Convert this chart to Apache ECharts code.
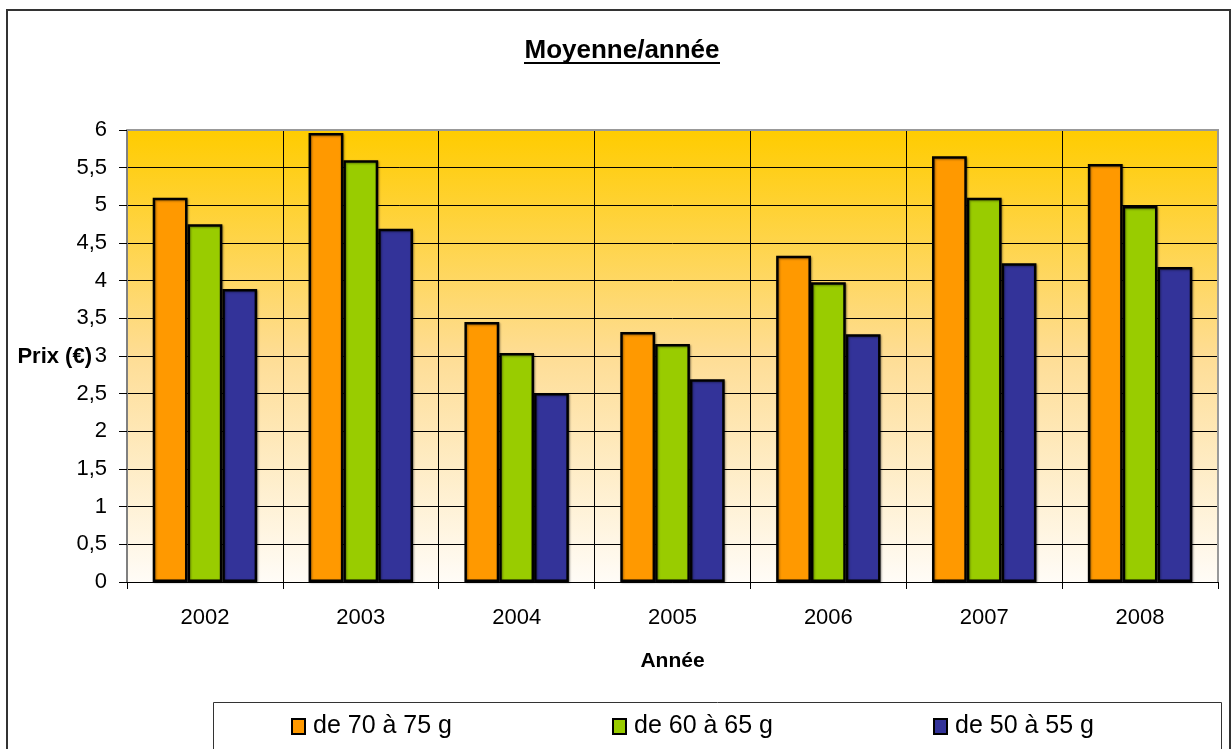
<!DOCTYPE html>
<html>
<head>
<meta charset="utf-8">
<script src="https://cdn.jsdelivr.net/npm/echarts@6/dist/echarts.min.js"></script>
<style>html,body{margin:0;padding:0;background:#fff;}#c{width:1232px;height:749px;}</style>
</head>
<body>
<div id="c"></div>
<script>
const categories = ['2002','2003','2004','2005','2006','2007','2008'];
const seriesNames = ['de 70 à 75 g','de 60 à 65 g','de 50 à 55 g'];
const s70 = [5.10, 5.96, 3.45, 3.32, 4.33, 5.65, 5.55];
const s60 = [4.75, 5.60, 3.04, 3.16, 3.98, 5.10, 4.99];
const s50 = [3.89, 4.69, 2.51, 2.69, 3.29, 4.23, 4.18];
const colors = ['#FF9900', '#99CC00', '#333399'];

const font = 'Liberation Sans, Arial, sans-serif';
const chart = echarts.init(document.getElementById('c'), null, {renderer:'canvas'});
const values = [s70, s60, s50];
const legendLefts = [291, 612, 933];

chart.setOption({
  animation: false,
  textStyle: {fontFamily: font},
  color: colors,
  graphic: [
    {type:'rect', shape:{x:7, y:10, width:1223, height:760}, style:{fill:'none', stroke:'#333', lineWidth:2}, z:-1},
    {type:'rect', shape:{x:213.5, y:702.5, width:1008, height:60}, style:{fill:'#fff', stroke:'#333', lineWidth:1}, z:0},
    {type:'text', x:622, y:38, style:{text:'Moyenne/année', font:'bold 26px ' + font, fill:'#000', textAlign:'center', textVerticalAlign:'top'}},
    {type:'line', shape:{x1:524, y1:63, x2:720, y2:63}, style:{stroke:'#000', lineWidth:2}},
    {type:'text', x:92, y:357, style:{text:'Prix (€)', font:'bold 22px ' + font, fill:'#000', textAlign:'right', textVerticalAlign:'middle'}},
    {type:'line', shape:{x1:127, y1:130, x2:1218, y2:130}, style:{stroke:'#999', lineWidth:2}, z:10},
    {type:'line', shape:{x1:1218, y1:129, x2:1218, y2:582}, style:{stroke:'#999', lineWidth:2}, z:10}
  ],
  legend: seriesNames.map((n, i) => ({
    data: [n],
    left: legendLefts[i],
    top: 714,
    padding: 0,
    icon: 'rect',
    itemWidth: 13,
    itemHeight: 15,
    itemGap: 0,
    itemStyle: {borderColor: '#000', borderWidth: 2},
    textStyle: {fontSize: 25, fontFamily: font, color: '#000', padding:[0,0,0,3]},
    z: 5
  })),
  grid: {
    left: 127, right: 14, top: 130, bottom: 167,
    outerBoundsMode: 'none',
    containLabel: false,
    show: true,
    borderWidth: 0,
    backgroundColor: new echarts.graphic.LinearGradient(0, 0, 0, 1, [
      {offset: 0, color: '#FFCC00'},
      {offset: 0.5, color: '#FEDD95'},
      {offset: 1, color: '#FFFCF7'}
    ])
  },
  xAxis: {
    type: 'category',
    data: categories,
    name: 'Année',
    nameLocation: 'middle',
    nameGap: 69,
    nameTextStyle: {fontSize: 21, fontWeight: 'bold', color: '#000', fontFamily: font},
    axisLine: {lineStyle: {color: '#000', width: 1}},
    axisTick: {show: true, length: 7, lineStyle: {color: '#000'}},
    axisLabel: {fontSize: 22, color: '#000', margin: 25, fontFamily: font},
    splitLine: {show: true, lineStyle: {color: '#000', width: 1}}
  },
  yAxis: {
    type: 'value',
    min: 0, max: 6, interval: 0.5,
    axisLine: {show: true, lineStyle: {color: '#808080', width: 2}},
    axisTick: {show: true, length: 8, lineStyle: {color: '#000'}},
    axisLabel: {fontSize: 22, color: '#000', margin: 20, fontFamily: font,
      formatter: v => String(v).replace('.', ',')},
    splitLine: {show: true, lineStyle: {color: '#000', width: 1}}
  },
  series: seriesNames.map((n, i) => ({
    name: n,
    type: 'bar',
    data: values[i],
    barGap: '0%',
    barCategoryGap: '33%',
    itemStyle: {color: colors[i], borderColor: '#000', borderWidth: 2.5,
      shadowColor: 'rgba(0,0,0,0.35)', shadowBlur: 2, shadowOffsetX: 1, shadowOffsetY: 1}
  }))
});
</script>
</body>
</html>
